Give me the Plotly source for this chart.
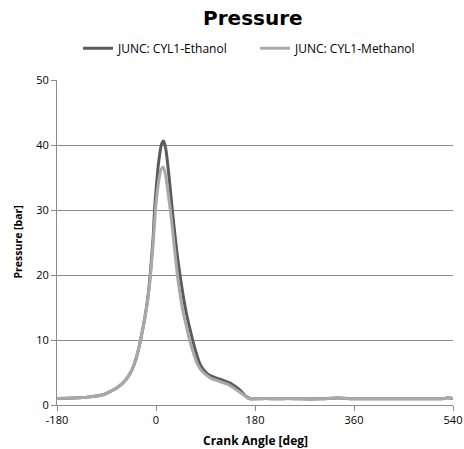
import plotly.graph_objects as go

# Crank angle [deg] and pressure [bar]
eth_angle = [-180, -160, -140, -120, -100, -90, -78, -70, -60, -52, -45, -40, -35, -28, -20, -15, -10,
             -5, -2.7, 0, 5, 10, 14, 18, 22, 26, 29.6, 34, 38, 43.6, 50, 55, 60, 66.7, 72, 79, 85, 95, 105,
             115, 125, 134, 145, 155, 164, 172, 180, 200, 220, 240, 260, 300, 320, 340, 360, 400, 450, 500,
             525, 530, 540]
eth_press = [1.0, 1.02, 1.1, 1.25, 1.5, 1.8, 2.3, 2.7, 3.4, 4.2, 5.2, 6.2, 7.5, 10.0, 13.6, 16.4, 20.5,
             26.0, 30.0, 33.0, 37.5, 40.1, 40.6, 39.3, 36.5, 33.2, 30.0, 26.5, 23.5, 20.0, 16.5, 14.2, 12.3,
             10.0, 8.3, 6.5, 5.6, 4.7, 4.3, 4.0, 3.7, 3.4, 2.8, 2.1, 1.3, 0.95, 0.95, 1.0, 0.95, 1.0,
             0.95, 0.95, 1.05, 1.05, 0.95, 0.95, 0.95, 0.95, 1.0, 1.1, 1.0]

meth_angle = [-180, -160, -140, -120, -100, -90, -78, -70, -60, -52, -45, -40, -35, -28, -20, -15, -10,
              -5, -1, 0, 5, 9, 13, 17, 21, 26, 30, 34, 38.8, 45, 50, 55, 61, 67, 74, 80, 90, 100,
              110, 120, 130, 140, 150, 160, 168, 175, 200, 220, 240, 260, 300, 320, 340, 360, 400, 450, 500,
              525, 530, 540]
meth_press = [1.0, 1.02, 1.1, 1.25, 1.5, 1.8, 2.3, 2.7, 3.4, 4.2, 5.2, 6.2, 7.5, 10.0, 13.5, 16.2, 20.0,
              25.0, 30.0, 31.0, 34.5, 36.2, 36.6, 35.6, 33.2, 30.0, 27.0, 23.8, 20.0, 16.3, 14.0, 12.2,
              10.0, 8.3, 6.5, 5.6, 4.7, 4.1, 3.8, 3.5, 3.2, 2.7, 2.1, 1.5, 1.0, 0.95, 1.0, 0.95, 1.0,
              0.95, 0.95, 1.05, 1.05, 0.95, 0.95, 0.95, 0.95, 1.0, 1.1, 1.0]

x_ticks = [-180, 0, 180, 360, 540]
y_ticks = [0, 10, 20, 30, 40, 50]

fig = go.Figure()
fig.add_trace(go.Scatter(x=eth_angle, y=eth_press, mode="lines", name="JUNC: CYL1-Ethanol",
                         line=dict(color="#5b5b5b", width=3, shape="spline", smoothing=0.5)))
fig.add_trace(go.Scatter(x=meth_angle, y=meth_press, mode="lines", name="JUNC: CYL1-Methanol",
                         line=dict(color="#a9a9a9", width=3, shape="spline", smoothing=0.5)))

fig.update_layout(
    width=464, height=449,
    margin=dict(l=57, r=11, t=80, b=44, autoexpand=False),
    paper_bgcolor="white", plot_bgcolor="white",
    title=dict(text="<b>Pressure</b>", x=0.545, xanchor="center", y=0.96, yanchor="middle",
               font=dict(family="DejaVu Sans", size=20, color="black")),
    legend=dict(orientation="h", x=0.5, xanchor="center", y=1.098, yanchor="middle",
                font=dict(family="Open Sans", size=12, color="black"),
                itemwidth=30, entrywidth=132, entrywidthmode="pixels",
                tracegroupgap=0, bgcolor="rgba(0,0,0,0)"),
    showlegend=True,
    xaxis=dict(range=[-180, 540], tickvals=x_ticks, ticktext=[str(v) for v in x_ticks],
               showgrid=False, zeroline=False, showline=True, linecolor="#8c8c8c", linewidth=1,
               ticks="outside", ticklen=5, tickcolor="#8c8c8c", automargin=False,
               tickfont=dict(family="Open Sans", size=11, color="black")),
    yaxis=dict(range=[0, 50], tickvals=y_ticks, ticktext=[str(v) for v in y_ticks],
               showgrid=True, gridcolor="#8c8c8c", gridwidth=1, zeroline=False,
               showline=True, linecolor="#8c8c8c", linewidth=1,
               ticks="outside", ticklen=5, tickcolor="#8c8c8c", automargin=False,
               tickfont=dict(family="Open Sans", size=11, color="black")),
    annotations=[
        dict(text="<b>Crank Angle [deg]</b>", xref="paper", yref="paper", x=0.5, y=-35/325,
             xanchor="center", yanchor="middle", showarrow=False,
             font=dict(family="Open Sans", size=12, color="black")),
        dict(text="<b>Pressure [bar]</b>", xref="paper", yref="paper", x=-40/396, y=0.5,
             xanchor="center", yanchor="middle", showarrow=False, textangle=-90,
             font=dict(family="Open Sans", size=10.5, color="black")),
    ],
)

fig.write_html("out.html", config={"displayModeBar": False},
               post_script="document.body.style.margin='0';document.body.style.overflow='hidden';")
